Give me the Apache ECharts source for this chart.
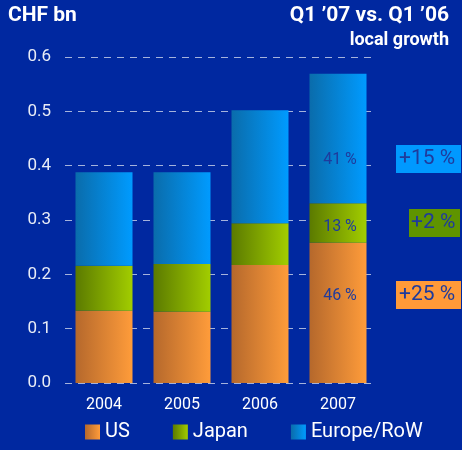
<!DOCTYPE html>
<html>
<head>
<meta charset="utf-8">
<script src="https://cdn.jsdelivr.net/npm/echarts@6/dist/echarts.min.js"></script>
<style>
  html, body { margin: 0; padding: 0; background: #0028a0; }
  #chart { width: 462px; height: 450px; }
</style>
</head>
<body>
<div id="chart"></div>
<script>
// data (CHF bn)
var years = ['2004', '2005', '2006', '2007'];
var usVals = [0.133, 0.131, 0.217, 0.258];
var japanVals = [0.083, 0.088, 0.077, 0.073];
var europeVals = [0.172, 0.169, 0.208, 0.238];
// share labels shown on the last bar only
var usShare = ['', '', '', '46 %'];
var japanShare = ['', '', '', '13 %'];
var europeShare = ['', '', '', '41 %'];

function grad(c1, c2) {
  return new echarts.graphic.LinearGradient(0, 0, 1, 0, [
    { offset: 0, color: c1 },
    { offset: 1, color: c2 }
  ]);
}

// labels line up with the growth boxes on the right, hence the offsets
function makeData(vals, shares, dy) {
  return vals.map(function (v, i) {
    return {
      value: v,
      label: { show: shares[i] !== '', formatter: shares[i], offset: [2, dy] }
    };
  });
}

var labelStyle = {
  position: 'inside',
  color: '#1f3b9c',
  fontSize: 16,
  fontFamily: 'Roboto'
};

var myChart = echarts.init(document.getElementById('chart'));
var option = {
  backgroundColor: '#0028a0',
  textStyle: { fontFamily: 'Roboto' },
  grid: { left: 65, right: 85, top: 57, bottom: 67 },
  legend: {
    bottom: 3,
    left: 80,
    itemWidth: 15,
    itemHeight: 15,
    itemGap: 43,
    icon: 'rect',
    textStyle: { color: '#ffffff', fontSize: 20, fontFamily: 'Roboto' },
    data: ['US', 'Japan', 'Europe/RoW']
  },
  xAxis: {
    type: 'category',
    data: years,
    axisLine: { show: false },
    axisTick: { show: false },
    axisLabel: { color: '#ffffff', fontSize: 16, margin: 14 }
  },
  yAxis: {
    type: 'value',
    min: 0,
    max: 0.6,
    interval: 0.1,
    axisLine: { show: false },
    axisTick: { show: false },
    axisLabel: {
      color: '#e8ecf6',
      fontSize: 17,
      margin: 14,
      formatter: function (v) { return v.toFixed(1); }
    },
    splitLine: {
      lineStyle: { color: 'rgba(220,225,240,0.75)', type: [7, 6], width: 1 }
    }
  },
  graphic: [
    { type: 'text', left: 8, top: 5, style: { text: 'CHF bn', fill: '#ffffff', font: 'bold 21px Roboto' } },
    { type: 'text', right: 13, top: 5, style: { text: 'Q1 \u201907 vs. Q1 \u201906', fill: '#ffffff', font: 'bold 21px Roboto', textAlign: 'right' } },
    { type: 'text', right: 13, top: 31, style: { text: 'local growth', fill: '#ffffff', font: 'bold 18px Roboto', textAlign: 'right' } },
    { type: 'text', left: 396, top: 145, style: { text: '+15 %', fill: '#1f3b9c', font: '21px Roboto', backgroundColor: '#0099ff', width: 62, height: 28, lineHeight: 28, padding: [0, 0, 0, 3] } },
    { type: 'text', left: 409, top: 209, style: { text: '+2 %', fill: '#1f3b9c', font: '21px Roboto', backgroundColor: '#5f9400', width: 49, height: 28, lineHeight: 28, padding: [0, 0, 0, 2] } },
    { type: 'text', left: 396, top: 281, style: { text: '+25 %', fill: '#1f3b9c', font: '21px Roboto', backgroundColor: '#ff9a38', width: 62, height: 28, lineHeight: 28, padding: [0, 0, 0, 3] } }
  ],
  series: [
    {
      name: 'US',
      type: 'bar',
      stack: 'total',
      barWidth: 57,
      itemStyle: { color: grad('#b5682c', '#ff9c3a') },
      label: labelStyle,
      data: makeData(usVals, usShare, -17)
    },
    {
      name: 'Japan',
      type: 'bar',
      stack: 'total',
      barWidth: 57,
      itemStyle: { color: grad('#5b7a00', '#a2cd00') },
      label: labelStyle,
      data: makeData(japanVals, japanShare, 4)
    },
    {
      name: 'Europe/RoW',
      type: 'bar',
      stack: 'total',
      barWidth: 57,
      itemStyle: { color: grad('#0a6cab', '#009bff') },
      label: labelStyle,
      data: makeData(europeVals, europeShare, 21)
    }
  ]
};
myChart.setOption(option);
</script>
</body>
</html>
